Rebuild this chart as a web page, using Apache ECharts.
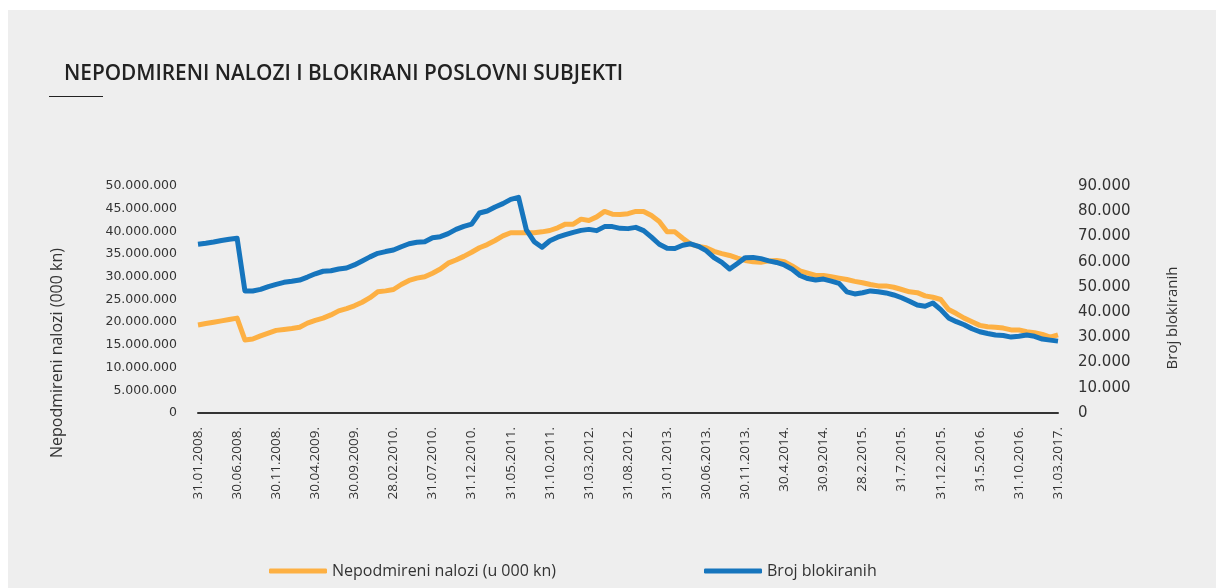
<!DOCTYPE html>
<html>
<head>
<meta charset="utf-8">
<script src="https://cdn.jsdelivr.net/npm/echarts@6/dist/echarts.min.js"></script>
<style>
  html, body { margin: 0; padding: 0; background: #fff; }
  #chart { position: absolute; left: 8px; top: 10px; width: 1208px; height: 578px; }
</style>
</head>
<body>
<div id="chart"></div>
<script>
// tick labels shown on x axis (every 5th month)
const tickLabels = ["31.01.2008.", "30.06.2008.", "30.11.2008.", "30.04.2009.", "30.09.2009.", "28.02.2010.",
  "31.07.2010.", "31.12.2010.", "31.05.2011.", "31.10.2011.", "31.03.2012.", "31.08.2012.", "31.01.2013.",
  "30.06.2013.", "30.11.2013.", "30.4.2014.", "30.9.2014.", "28.2.2015.", "31.7.2015.", "31.12.2015.",
  "31.5.2016.", "31.10.2016.", "31.03.2017."]

// nepodmireni nalozi, in millions of (000 kn)
const nalozi = [19.4, 19.7, 20.0, 20.3, 20.6, 20.9,
  16.1, 16.3, 17.0, 17.6, 18.2, 18.4, 18.6, 18.9, 19.8, 20.4, 20.9, 21.6, 22.5, 23.0, 23.6, 24.4, 25.4, 26.7,
  26.9, 27.2, 28.3, 29.2, 29.7, 30.0, 30.8, 31.7, 33.0, 33.7, 34.5, 35.4, 36.4,
  37.1, 38.0, 39.0, 39.7, 39.7, 39.7, 39.7, 39.9, 40.2, 40.8, 41.6, 41.6, 42.7, 42.4, 43.2, 44.4, 43.8, 43.7,
  43.9, 44.4, 44.4, 43.5, 42.2, 39.9, 39.9, 38.5, 37.2, 36.7, 36.4, 35.6, 35.1, 34.7, 34.1, 33.6, 33.3, 33.2, 33.5,
  33.6, 33.3, 32.4, 31.3, 30.8, 30.3, 30.3, 30.0, 29.7, 29.4, 29.0, 28.7, 28.3, 28.0, 28.0, 27.7, 27.2, 26.7,
  26.5, 25.8, 25.5, 25.0, 22.8, 21.9, 20.9, 20.1, 19.3, 19.0, 18.9, 18.7, 18.3, 18.3, 17.9, 17.7, 17.3, 16.7, 17.2]

// broj blokiranih, in thousands
const blokirani = [66.9, 67.3, 67.8, 68.4, 68.9, 69.3,
  48.4, 48.4, 49.0, 50.1, 51.0, 51.8, 52.2, 52.7, 53.9, 55.2, 56.2, 56.4, 57.1, 57.5, 58.7, 60.3, 61.9, 63.3,
  64.0, 64.6, 65.9, 67.1, 67.7, 67.9, 69.5, 69.9, 71.1, 72.8, 74.0, 74.9, 79.3,
  80.1, 81.7, 83.0, 84.7, 85.5, 72.6, 67.9, 65.7, 68.3, 69.7, 70.7, 71.6, 72.4, 72.8, 72.3, 73.9, 73.9, 73.2,
  73.1, 73.6, 72.3, 69.7, 66.9, 65.3, 65.2, 66.5, 67.1, 66.1, 64.4, 61.6, 59.7, 57.1, 59.3, 61.6, 61.7, 61.2, 60.3,
  59.7, 58.7, 57.0, 54.5, 53.3, 52.7, 53.1, 52.3, 51.4, 48.0, 47.2, 47.7, 48.4, 48.1, 47.6, 46.8, 45.7, 44.3,
  42.8, 42.3, 43.6, 41.0, 37.7, 36.2, 35.0, 33.4, 32.2, 31.5, 30.9, 30.7, 30.1, 30.4, 30.9, 30.4, 29.3, 28.9, 28.5]

// month categories, Jan 2008 .. Mar 2017
let categories = []
for (let i = 0; i < nalozi.length; i++) {
  let m = i % 12 + 1, y = 2008 + Math.floor(i / 12)
  categories.push(i % 5 === 0 ? tickLabels[i / 5] : m + "." + y + ".")
}

const fmt = v => String(v).replace(/\B(?=(\d{3})+(?!\d))/g, ".")
const textCol = "#333"
const font = "'Open Sans', sans-serif"
const numFont = "'DejaVu Sans', sans-serif"

let myChart = echarts.init(document.getElementById("chart"))
myChart.setOption({
  backgroundColor: "#eeeeee",
  animation: false,
  textStyle: { fontFamily: font },
  title: {
    text: "NEPODMIRENI NALOZI I BLOKIRANI POSLOVNI SUBJEKTI",
    left: 51, top: 49,
    textStyle: { fontSize: 20.8, fontWeight: 600, color: "#222", fontFamily: font }
  },
  graphic: [
    { type: "line", shape: { x1: 41, y1: 86.5, x2: 95, y2: 86.5 }, style: { stroke: "#222", lineWidth: 1 } },
    { type: "text", x: 49, y: 343, rotation: Math.PI / 2,
      style: { text: "Nepodmireni nalozi (000 kn)", fill: textCol, font: "16px " + font, align: "center", verticalAlign: "middle" } },
    { type: "text", x: 1165, y: 308, rotation: Math.PI / 2,
      style: { text: "Broj blokiranih", fill: textCol, font: "15px " + font, align: "center", verticalAlign: "middle" } }
  ],
  legend: [
    { left: 256, top: 548, icon: "roundRect", itemWidth: 58, itemHeight: 5, itemGap: 6,
      data: ["Nepodmireni nalozi (u 000 kn)"], textStyle: { fontSize: 16, color: textCol } },
    { left: 691, top: 548, icon: "roundRect", itemWidth: 58, itemHeight: 5, itemGap: 6,
      data: ["Broj blokiranih"], textStyle: { fontSize: 16, color: textCol } }
  ],
  grid: { left: 190, right: 158, top: 176, bottom: 175 },
  xAxis: {
    type: "category",
    data: categories,
    boundaryGap: false,
    axisLine: { lineStyle: { color: "#333", width: 2 } },
    axisTick: { show: false },
    axisLabel: { interval: 4, rotate: 90, margin: 14, fontSize: 13.5, color: textCol }
  },
  yAxis: [
    {
      type: "value", min: 0, max: 50000000, interval: 5000000,
      axisLine: { show: false }, axisTick: { show: false }, splitLine: { show: false },
      axisLabel: { margin: 21, fontSize: 12.5, color: textCol, fontFamily: numFont, formatter: fmt }
    },
    {
      type: "value", min: 0, max: 90000, interval: 10000,
      axisLine: { show: false }, axisTick: { show: false }, splitLine: { show: false },
      axisLabel: { margin: 20, fontSize: 15, color: textCol, fontFamily: numFont, formatter: fmt }
    }
  ],
  series: [
    {
      name: "Nepodmireni nalozi (u 000 kn)",
      type: "line",
      yAxisIndex: 0,
      data: nalozi.map(v => Math.round(v * 1000000)),
      showSymbol: false,
      lineStyle: { width: 5, color: "#fdb043", join: "round" },
      itemStyle: { color: "#fdb043" }
    },
    {
      name: "Broj blokiranih",
      type: "line",
      yAxisIndex: 1,
      data: blokirani.map(v => Math.round(v * 1000)),
      showSymbol: false,
      lineStyle: { width: 5, color: "#1675bd", join: "round" },
      itemStyle: { color: "#1675bd" }
    }
  ]
})
</script>
</body>
</html>
